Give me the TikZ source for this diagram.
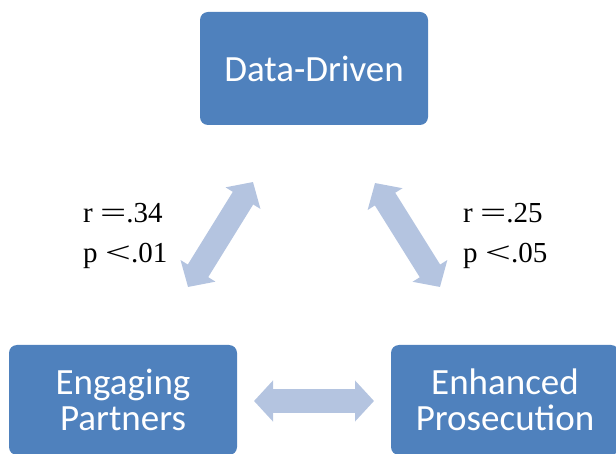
\documentclass[tikz,border=0pt]{standalone}
\usepackage{fontspec}
\usepackage{graphicx}
\setmainfont{Liberation Serif}
\newfontfamily\boxfont{Carlito}
\usetikzlibrary{arrows.meta}
\definecolor{boxblue}{HTML}{4F81BD}
\definecolor{arrowblue}{HTML}{B4C4E0}
\newcommand{\wideeq}{\scalebox{1.6}[1]{=}}
\newcommand{\widelt}{\scalebox{1.6}[1]{<}}

\tikzset{
  stage/.style={fill=boxblue, rounded corners=8pt, minimum width=228pt, minimum height=113pt,
    inner sep=0pt, text=white, align=center, font=\boxfont\fontsize{37}{36}\selectfont},
  link/.style={draw=arrowblue, line width=24pt,
    {Triangle[width=40pt,length=19pt]}-{Triangle[width=40pt,length=19pt]}},
  stat/.style={anchor=west, inner sep=0pt, align=left, font=\fontsize{29}{40}\selectfont}
}

\begin{document}
\begin{tikzpicture}[x=1pt,y=-1pt]
    \useasboundingbox (0,0) rectangle (616,454);
    % the three boxes
    \node[stage] (dd) at (314,68.5) {Data-Driven};
    \node[stage, minimum height=110pt] (ep) at (123,400) {Engaging\\Partners};
    \node[stage, minimum height=110pt] (ps) at (505,400) {Enhanced\\Prosecution};
    % arrow ends
    \coordinate (l1) at (253,182);
    \coordinate (l2) at (188,287);
    \coordinate (r1) at (375,183);
    \coordinate (r2) at (440,287);
    \coordinate (h1) at (254,401);
    \coordinate (h2) at (374,401);
    \draw[link] (l1) -- (l2);
    \draw[link] (r1) -- (r2);
    \draw[link] (h1) -- (h2);
    % correlations
    \node[stat] (sl) at (83,236) {r \wideeq.34\\p \widelt.01};
    \node[stat] (sr) at (463,236) {r \wideeq.25\\p \widelt.05};
\end{tikzpicture}
\end{document}
